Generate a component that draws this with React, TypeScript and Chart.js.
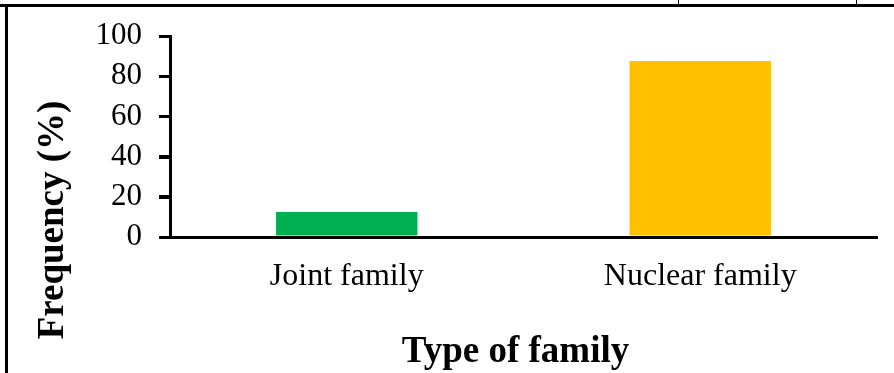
import React, { useEffect, useRef } from "react";
import { Chart, registerables } from "chart.js";

Chart.register(...registerables);

const categories: string[] = ["Joint family", "Nuclear family"];
const frequencies: number[] = [12.4, 87.6];
const barColors: string[] = ["#00B050", "#FFC000"];
const yTicks: number[] = [0, 20, 40, 60, 80, 100];

const xTitle = "Type of family";
const yTitle = "Frequency (%)";

const SERIF = "'Liberation Serif', 'Times New Roman', serif";
const W = 894;
const H = 373;
const TICK_LEN = 11;

// Table rules around the figure, the y-axis tick marks and the two axis titles.
const framePlugin = {
  id: "frame",
  afterDraw(chart: Chart) {
    const ctx = chart.ctx;
    const area = chart.chartArea;
    const y = chart.scales.y;
    ctx.save();
    ctx.fillStyle = "#000";
    ctx.fillRect(0, 4, W, 3);
    ctx.fillRect(5, 4, 3, H - 4);
    ctx.fillRect(678, 0, 1, 5);
    ctx.fillRect(856, 0, 1, 5);

    for (const v of yTicks) {
      const py = Math.round(y.getPixelForValue(v));
      ctx.fillRect(area.left - TICK_LEN, py - 1, TICK_LEN, 3);
    }

    ctx.font = `bold 37px ${SERIF}`;
    ctx.textAlign = "center";
    ctx.textBaseline = "middle";
    ctx.fillText(xTitle, (area.left + area.right) / 2 - 8, 352);

    ctx.translate(53, 220);
    ctx.rotate(-Math.PI / 2);
    ctx.fillText(yTitle, 0, 0);
    ctx.restore();
  },
};

export default function App() {
  const ref = useRef<HTMLCanvasElement | null>(null);

  useEffect(() => {
    document.body.style.margin = "0";
    const canvas = ref.current;
    if (!canvas) return;
    const chart = new Chart(canvas, {
      type: "bar",
      data: {
        labels: categories,
        datasets: [
          {
            data: frequencies,
            backgroundColor: barColors,
            borderWidth: 0,
            barPercentage: 0.4,
            categoryPercentage: 1.0,
          },
        ],
      },
      options: {
        responsive: false,
        animation: false,
        devicePixelRatio: 1,
        layout: { padding: { top: 36, right: 17, left: 0, bottom: 0 } },
        plugins: {
          legend: { display: false },
          tooltip: { enabled: false },
          title: { display: false },
        },
        scales: {
          x: {
            grid: { display: false },
            border: { display: true, color: "#000", width: 3 },
            ticks: {
              color: "#000",
              font: { family: SERIF, size: 32 },
              padding: 12,
              maxRotation: 0,
              autoSkip: false,
            },
            afterFit(scale: any) {
              scale.height = H - 237;
            },
          },
          y: {
            min: 0,
            max: 100,
            afterBuildTicks(scale: any) {
              scale.ticks = yTicks.map((v) => ({ value: v }));
            },
            grid: {
              display: true,
              drawOnChartArea: false,
              drawTicks: true,
              tickLength: TICK_LEN,
              color: "#000",
              lineWidth: 3,
            },
            border: { display: true, color: "#000", width: 3 },
            ticks: {
              color: "#000",
              font: { family: SERIF, size: 31 },
              padding: 17,
              autoSkip: false,
            },
            afterFit(scale: any) {
              scale.width = 170;
            },
          },
        },
      },
      plugins: [framePlugin],
    });
    return () => chart.destroy();
  }, []);

  return <canvas ref={ref} width={W} height={H} style={{ display: "block" }} />;
}
